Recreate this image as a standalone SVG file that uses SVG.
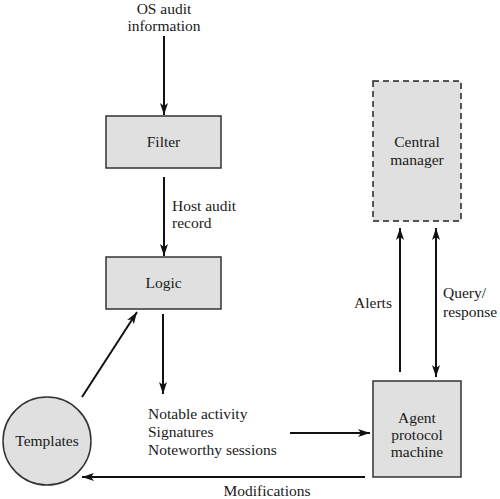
<svg xmlns="http://www.w3.org/2000/svg" width="500" height="499" viewBox="0 0 500 499">
<style>
text{font-family:"Liberation Serif","Times New Roman",serif;font-size:15.5px;fill:#1a1a1a}
.box{fill:#e0e0e0;stroke:#333;stroke-width:1.5}
.dash{fill:#e0e0e0;stroke:#222;stroke-width:1.5;stroke-dasharray:6,4}
.c{text-anchor:middle}
.ln{stroke:#111;stroke-width:2;fill:none}
</style>
<defs>
<marker id="ah" viewBox="0 0 12 10" refX="12" refY="5" markerWidth="12" markerHeight="10" markerUnits="userSpaceOnUse" orient="auto-start-reverse">
<path d="M0,1 L12,5 L0,9 L3,5 z" fill="#111"/>
</marker>
</defs>
<rect width="500" height="499" fill="#fff"/>
<g id="connectors">
<line class="ln" x1="164" y1="36" x2="164" y2="115" marker-end="url(#ah)"/>
<line class="ln" x1="164" y1="177" x2="164" y2="256" marker-end="url(#ah)"/>
<line class="ln" x1="163" y1="314" x2="163" y2="394" marker-end="url(#ah)"/>
<line class="ln" x1="82" y1="397" x2="137" y2="312" marker-end="url(#ah)"/>
<line class="ln" x1="290" y1="433" x2="370" y2="433" marker-end="url(#ah)"/>
<line class="ln" x1="365" y1="477" x2="82" y2="477" marker-end="url(#ah)"/>
<line class="ln" x1="400" y1="372" x2="400" y2="228" marker-end="url(#ah)"/>
<line class="ln" x1="436" y1="228" x2="436" y2="377" marker-start="url(#ah)" marker-end="url(#ah)"/>
</g>
<g id="labels">
<text class="c" x="164" y="14">OS audit</text>
<text class="c" x="164" y="31">information</text>
<text x="172" y="211">Host audit</text>
<text x="172" y="228">record</text>
<text x="148" y="419">Notable activity</text>
<text x="148" y="437">Signatures</text>
<text x="148" y="455">Noteworthy sessions</text>
<text class="c" x="267" y="496">Modifications</text>
<text class="c" x="373" y="308">Alerts</text>
<text x="443" y="298">Query/</text>
<text x="443" y="317">response</text>
</g>
<g id="filter">
<rect class="box" x="106" y="116" width="115" height="52"/>
<text class="c" x="163.5" y="147">Filter</text>
</g>
<g id="logic">
<rect class="box" x="106" y="257" width="115" height="52"/>
<text class="c" x="163.5" y="288">Logic</text>
</g>
<g id="templates">
<circle class="box" cx="47" cy="441" r="44"/>
<text class="c" x="47" y="446">Templates</text>
</g>
<g id="central">
<rect class="dash" x="373" y="81" width="88" height="140"/>
<text class="c" x="417" y="147">Central</text>
<text class="c" x="417" y="165">manager</text>
</g>
<g id="agent">
<rect class="box" x="373" y="381" width="88" height="96"/>
<text class="c" x="417" y="423">Agent</text>
<text class="c" x="417" y="440">protocol</text>
<text class="c" x="417" y="457">machine</text>
</g>
</svg>
